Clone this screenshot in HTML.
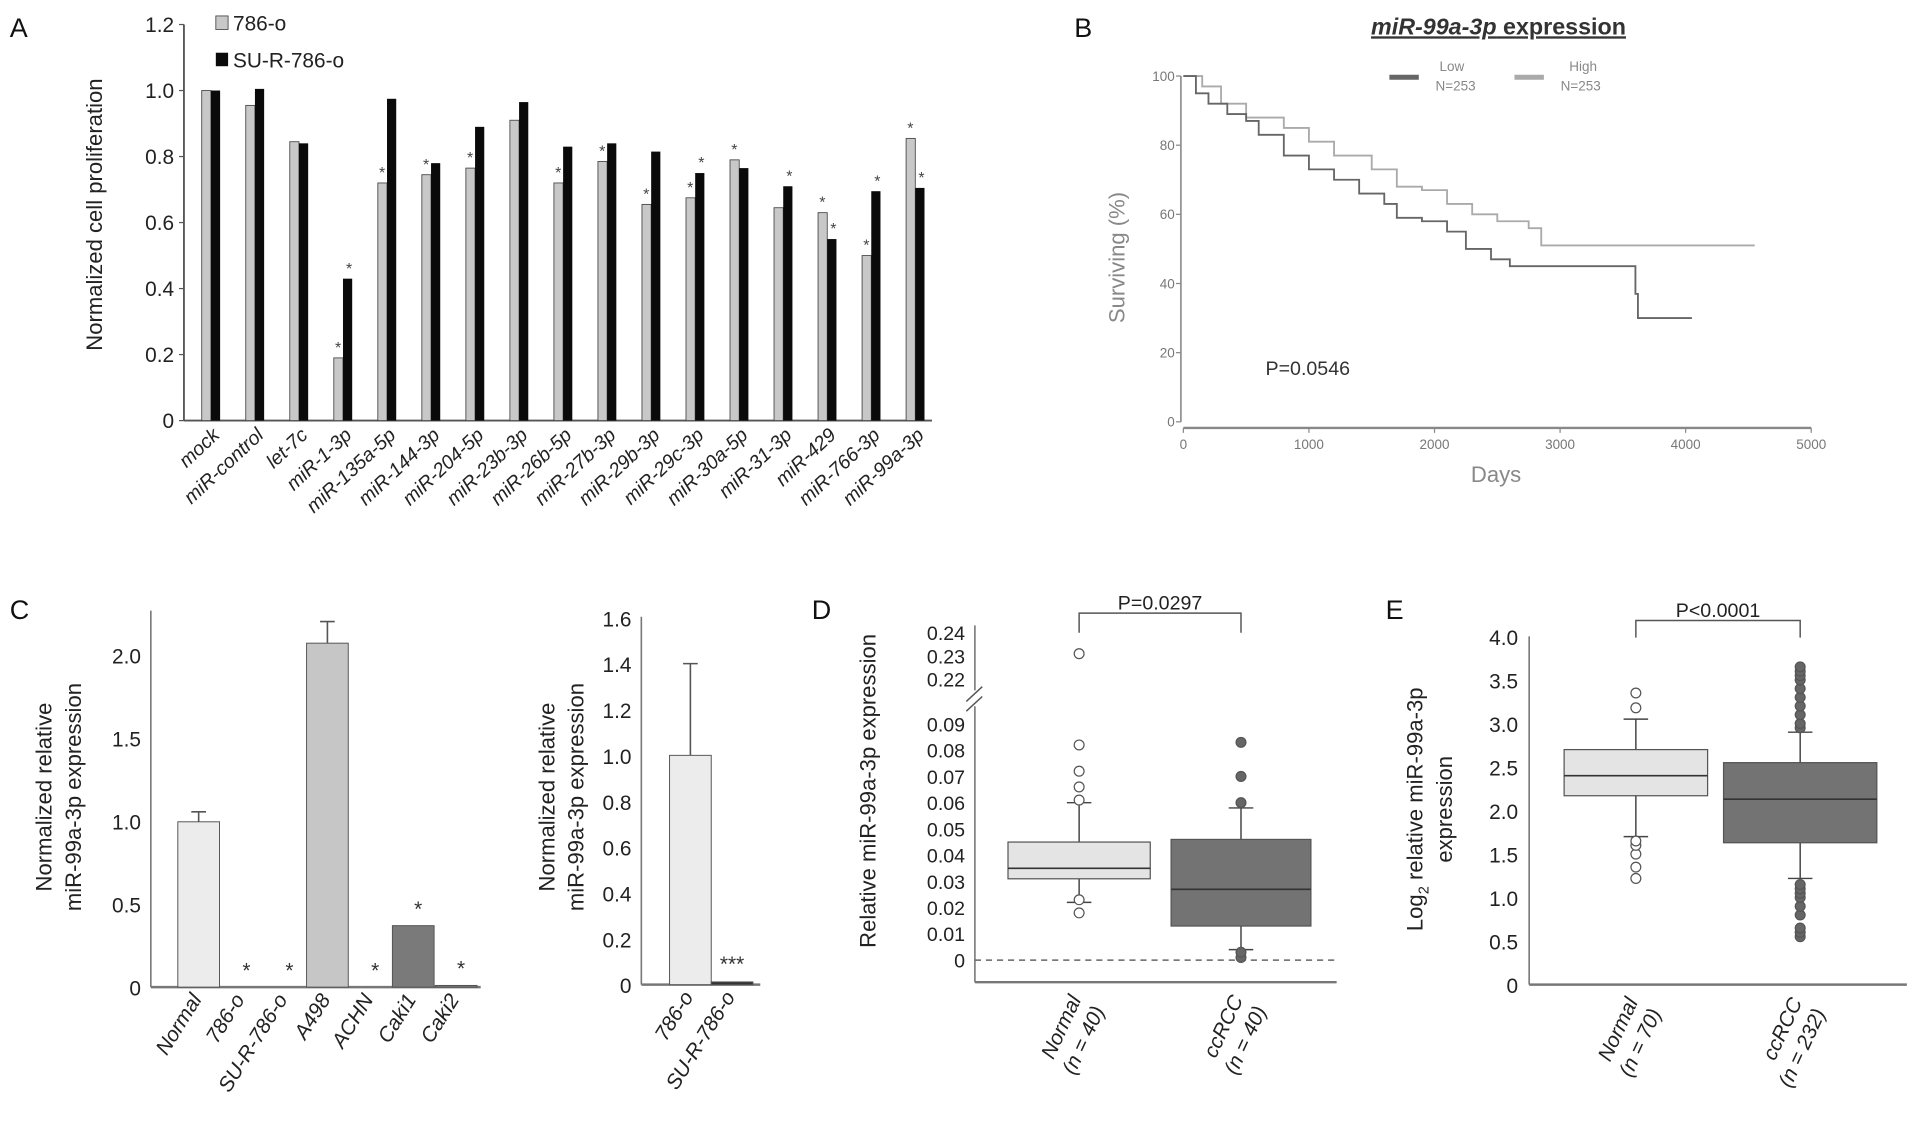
<!DOCTYPE html>
<html><head><meta charset="utf-8"><style>
html,body{margin:0;padding:0;background:#fff;}
svg{display:block;font-family:"Liberation Sans",sans-serif;}
</style></head><body>
<svg id="fig" width="1913" height="1122" viewBox="0 0 1560 915" preserveAspectRatio="none" xmlns="http://www.w3.org/2000/svg"></svg>
<script>
// ---------- Panel A data ----------
const aCategories = ["mock","miR-control","let-7c","miR-1-3p","miR-135a-5p","miR-144-3p","miR-204-5p","miR-23b-3p","miR-26b-5p","miR-27b-3p","miR-29b-3p","miR-29c-3p","miR-30a-5p","miR-31-3p","miR-429","miR-766-3p","miR-99a-3p"];
const aGray = [1.0,0.955,0.845,0.19,0.72,0.745,0.765,0.91,0.72,0.785,0.655,0.675,0.79,0.645,0.63,0.5,0.855];
const aBlack = [1.0,1.005,0.84,0.43,0.975,0.78,0.89,0.965,0.83,0.84,0.815,0.75,0.765,0.71,0.55,0.695,0.705];
const aGrayStar = [0,0,0,1,1,1,1,0,1,1,1,1,1,0,1,1,1];
const aBlackStar = [0,0,0,1,0,0,0,0,0,0,0,1,0,1,1,1,1];
const aTicks = [0,0.2,0.4,0.6,0.8,1.0,1.2];
const aTickLabels = ["0","0.2","0.4","0.6","0.8","1.0","1.2"];
// ---------- Panel B data ----------
const bLowDays = [0,100,200,350,500,600,800,1000,1200,1400,1600,1700,1900,2100,2250,2450,2600,3550,3600,3620,4050];
const bLowSurv = [100,95,92,89,87,83,77,73,70,66,63,59,58,55,50,47,45,45,37,30,30];
const bHighDays = [0,150,300,500,800,1000,1200,1500,1600,1700,1900,2100,2300,2500,2750,2850,4550];
const bHighSurv = [100,97,92,88,85,81,77,73,73,68,67,63,60,58,56,51,51];
const bXTicks = [0,1000,2000,3000,4000,5000];
const bYTicks = [0,20,40,60,80,100];
// ---------- Panel C data ----------
const cCategories = ["Normal","786-o","SU-R-786-o","A498","ACHN","Caki1","Caki2"];
const cValues = [0.995,0.0,0.0,2.07,0.0,0.37,0.01];
const cErrors = [0.06,0,0,0.13,0,0,0];
const cStars = [0,1,1,0,1,1,1];
const cTicks = [0,0.5,1.0,1.5,2.0];
const c2Categories = ["786-o","SU-R-786-o"];
const c2Values = [1.0,0.012];
const c2Errors = [0.4,0];
const c2Ticks = [0,0.2,0.4,0.6,0.8,1.0,1.2,1.4,1.6];
// ---------- Panel D data ----------
const dGroups = ["Normal","ccRCC"];
const dN = ["(n = 40)","(n = 40)"];
const dQ1 = [0.031,0.013];
const dMed = [0.035,0.027];
const dQ3 = [0.045,0.046];
const dLo = [0.022,0.004];
const dHi = [0.060,0.058];
const dOutNormal = [0.018,0.023,0.061,0.066,0.072,0.082,0.231];
const dOutCc = [0.001,0.003,0.060,0.070,0.083];
const dTicksLow = [0,0.01,0.02,0.03,0.04,0.05,0.06,0.07,0.08,0.09];
const dTicksHigh = [0.22,0.23,0.24];
// ---------- Panel E data ----------
const eGroups = ["Normal","ccRCC"];
const eN = ["(n = 70)","(n = 232)"];
const eQ1 = [2.17,1.63];
const eMed = [2.40,2.13];
const eQ3 = [2.70,2.55];
const eLo = [1.70,1.22];
const eHi = [3.05,2.90];
const eOutNormal = [1.22,1.35,1.5,1.6,1.65,3.18,3.35];
const eOutCc = [0.55,0.6,0.65,0.8,0.9,1.0,1.05,1.1,1.15,2.95,3.0,3.1,3.2,3.3,3.4,3.5,3.55,3.6,3.65];
const eTicks = [0,0.5,1.0,1.5,2.0,2.5,3.0,3.5,4.0];

const svg = document.getElementById('fig');
const NS = "http://www.w3.org/2000/svg";
function mk(tag, attrs, parent){
  const e = document.createElementNS(NS, tag);
  for (const k in attrs) e.setAttribute(k, attrs[k]);
  (parent||svg).appendChild(e);
  return e;
}
function txt(x,y,s,size,opts){
  const t = mk('text',Object.assign({x:x,y:y,'font-size':size,fill:'#222'},opts||{}));
  t.textContent = s;
  return t;
}

// ================= Panel A =================
const aX0 = 150, aXEnd = 760, aY0 = 343, aYTop = 20;
function aY(v){ return aY0 - v/1.2*(aY0-aYTop); }
function aX(i){ return 172 + i*35.9; }
let el = txt(8,30,"A",22,{fill:'#111'});


el = mk('line',{x1:aX0,y1:aYTop,x2:aX0,y2:aY0,stroke:'#555','stroke-width':1.5});


el = mk('line',{x1:aX0,y1:aY0,x2:aXEnd,y2:aY0,stroke:'#555','stroke-width':1.5});


aTicks.forEach((v,i)=>{
  const t = mk('line',{x1:aX0-4,y1:aY(v),x2:aX0,y2:aY(v),stroke:'#555'});
  
  
  const l = txt(aX0-8,aY(v)+6,aTickLabels[i],17,{'text-anchor':'end'});
  
  
});
el = txt(0,0,"Normalized cell proliferation",18,{transform:'translate(83,175) rotate(-90)','text-anchor':'middle'});


aCategories.forEach((c,i)=>{
  const cx = aX(i);
  const g = mk('rect',{x:cx-7.5,y:aY(aGray[i]),width:7.5,height:aY0-aY(aGray[i]),fill:'#c8c8c8',stroke:'#444','stroke-width':0.7});
  
  
  const b = mk('rect',{x:cx,y:aY(aBlack[i]),width:7.5,height:aY0-aY(aBlack[i]),fill:'#0a0a0a'});
  
  
  if (aGrayStar[i]){
    const s = txt(cx-4,aY(aGray[i])-4,"*",13,{'text-anchor':'middle',fill:'#444'});
    
    
  }
  if (aBlackStar[i]){
    const s = txt(cx+5,aY(aBlack[i])-4,"*",13,{'text-anchor':'middle',fill:'#444'});
    
    
  }
  const l = txt(0,0,c,16,{transform:'translate('+(cx+8)+',356) rotate(-43)','text-anchor':'end','font-style':'italic'});
  
  
});
el = mk('rect',{x:176,y:13,width:10,height:11,fill:'#c8c8c8',stroke:'#444','stroke-width':0.7});


el = txt(190,25,"786-o",17);


el = mk('rect',{x:176,y:43,width:10,height:11,fill:'#0a0a0a'});


el = txt(190,55,"SU-R-786-o",17);



// ================= Panel B =================
function bX(d){ return 965 + d/5000*(1477-965); }
function bY(s){ return 344 - s/100*(344-62); }
el = txt(876,30,"B",22,{fill:'#111'});


el = txt(1222,28,"",19,{'text-anchor':'middle','text-decoration':'underline',fill:'#333'});
el.innerHTML = '<tspan font-style="italic" font-weight="bold">miR-99a-3p</tspan><tspan font-weight="bold"> expression</tspan>';


el = mk('line',{x1:963,y1:bY(100),x2:963,y2:bY(0),stroke:'#888','stroke-width':1.3});


el = mk('line',{x1:bX(0),y1:349,x2:bX(5000),y2:349,stroke:'#888','stroke-width':2});


bYTicks.forEach(v=>{
  const t = mk('line',{x1:959,y1:bY(v),x2:963,y2:bY(v),stroke:'#888'});
  
  
  const l = txt(958,bY(v)+4,String(v),11,{'text-anchor':'end',fill:'#777'});
  
  
});
bXTicks.forEach(v=>{
  const t = mk('line',{x1:bX(v),y1:349,x2:bX(v),y2:353,stroke:'#888'});
  
  
  const l = txt(bX(v),366,String(v),11,{'text-anchor':'middle',fill:'#777'});
  
  
});
el = txt(0,0,"Surviving (%)",18,{transform:'translate(917,210) rotate(-90)','text-anchor':'middle',fill:'#888'});


el = txt(1220,393,"Days",18,{'text-anchor':'middle',fill:'#888'});


el = txt(1032,306,"P=0.0546",16,{fill:'#333'});


function stepPath(days,surv){
  let d = 'M'+bX(days[0])+','+bY(surv[0]);
  for (let i=1;i<days.length;i++){ d += ' H'+bX(days[i])+' V'+bY(surv[i]); }
  return d;
}
el = mk('path',{d:stepPath(bHighDays,bHighSurv),fill:'none',stroke:'#aaa','stroke-width':1.5});


el = mk('path',{d:stepPath(bLowDays,bLowSurv),fill:'none',stroke:'#666','stroke-width':1.5});


el = mk('line',{x1:1133,y1:63,x2:1157,y2:63,stroke:'#666','stroke-width':4});


el = txt(1184,58,"Low",11,{'text-anchor':'middle',fill:'#888'});


el = txt(1187,74,"N=253",11,{'text-anchor':'middle',fill:'#888'});


el = mk('line',{x1:1235,y1:63,x2:1259,y2:63,stroke:'#aaa','stroke-width':4});


el = txt(1291,58,"High",11,{'text-anchor':'middle',fill:'#888'});


el = txt(1289,74,"N=253",11,{'text-anchor':'middle',fill:'#888'});



// ================= Panel C =================
el = txt(8,505,"C",22,{fill:'#111'});


function cY(v){ return 805 - v*135.5; }
function cX(i){ return 162 + i*35; }
const cFills = ['#ececec','#ececec','#ececec','#c6c6c6','#ececec','#7a7a7a','#7a7a7a'];
el = mk('line',{x1:123,y1:498,x2:123,y2:805,stroke:'#777','stroke-width':1.3});


el = mk('line',{x1:123,y1:805,x2:392,y2:805,stroke:'#777','stroke-width':2});


cTicks.forEach(v=>{
  const l = txt(115,cY(v)+7,v===0?"0":v.toFixed(1),17,{'text-anchor':'end'});
  
  
});
el = txt(0,0,"",18,{transform:'translate(42,650) rotate(-90)','text-anchor':'middle'});
el.innerHTML = '<tspan x="0" dy="0">Normalized relative</tspan><tspan x="0" dy="24">miR-99a-3p expression</tspan>';


cCategories.forEach((c,i)=>{
  const cx = cX(i);
  if (cValues[i]>0){
    const r = mk('rect',{x:cx-17,y:cY(cValues[i]),width:34,height:805-cY(cValues[i]),fill:cFills[i],stroke:'#555','stroke-width':0.8});
    
    
  }
  if (cErrors[i]>0){
    const e = mk('path',{d:'M'+cx+','+cY(cValues[i])+' V'+cY(cValues[i]+cErrors[i])+' M'+(cx-6)+','+cY(cValues[i]+cErrors[i])+' H'+(cx+6),stroke:'#555',fill:'none','stroke-width':1.3});
    
    
  }
  if (cStars[i]){
    const s = txt(cx+4,cY(cValues[i])-8,"*",17,{'text-anchor':'middle',fill:'#333'});
    
    
  }
  const l = txt(0,0,c,17,{transform:'translate('+(cx+3)+',815) rotate(-58)','text-anchor':'end','font-style':'italic'});
  
  
});
// C right
function c2Y(v){ return 803 - v*187; }
function c2X(i){ return 563 + i*34; }
el = mk('line',{x1:523,y1:503,x2:523,y2:803,stroke:'#777','stroke-width':1.3});


el = mk('line',{x1:523,y1:803,x2:620,y2:803,stroke:'#777','stroke-width':2});


c2Ticks.forEach(v=>{
  const l = txt(515,c2Y(v)+7,v===0?"0":v.toFixed(1),17,{'text-anchor':'end'});
  
  
});
el = txt(0,0,"",18,{transform:'translate(452,650) rotate(-90)','text-anchor':'middle'});
el.innerHTML = '<tspan x="0" dy="0">Normalized relative</tspan><tspan x="0" dy="24">miR-99a-3p expression</tspan>';


c2Categories.forEach((c,i)=>{
  const cx = c2X(i);
  const r = mk('rect',{x:cx-17,y:c2Y(c2Values[i]),width:34,height:803-c2Y(c2Values[i]),fill:i===0?'#ececec':'#333',stroke:'#555','stroke-width':0.8});
  
  
  if (c2Errors[i]>0){
    const e = mk('path',{d:'M'+cx+','+c2Y(c2Values[i])+' V'+c2Y(c2Values[i]+c2Errors[i])+' M'+(cx-6)+','+c2Y(c2Values[i]+c2Errors[i])+' H'+(cx+6),stroke:'#555',fill:'none','stroke-width':1.3});
    
    
  }
  const l = txt(0,0,c,17,{transform:'translate('+(cx+3)+',813) rotate(-58)','text-anchor':'end','font-style':'italic'});
  
  
});
el = txt(597,792,"***",17,{'text-anchor':'middle',fill:'#333'});



// ================= Panel D =================
el = txt(662,505,"D",22,{fill:'#111'});


function dY(v){ return v>=0.2 ? 554 - (v-0.22)*1900 : 783 - v*2140; }
function dX(i){ return 880 + i*132; }
el = mk('path',{d:'M795,510 V563 M795,576 V801',stroke:'#777',fill:'none','stroke-width':1.3});


el = mk('path',{d:'M788,572 L801,560 M788,580 L801,568',stroke:'#555',fill:'none','stroke-width':1.2});


el = mk('line',{x1:795,y1:801,x2:1090,y2:801,stroke:'#777','stroke-width':2});


el = mk('line',{x1:795,y1:dY(0),x2:1090,y2:dY(0),stroke:'#666','stroke-width':1.2,'stroke-dasharray':'5,4'});


dTicksLow.concat(dTicksHigh).forEach(v=>{
  const l = txt(787,dY(v)+6,v===0?"0":String(v),16,{'text-anchor':'end'});
  
  
});
el = txt(0,0,"Relative miR-99a-3p expression",18,{transform:'translate(714,645) rotate(-90)','text-anchor':'middle'});


function box(xc,w,q1,med,q3,lo,hi,Y,fill,name){
  const wl = mk('path',{d:'M'+xc+','+Y(q3)+' V'+Y(hi)+' M'+(xc-10)+','+Y(hi)+' H'+(xc+10)+' M'+xc+','+Y(q1)+' V'+Y(lo)+' M'+(xc-10)+','+Y(lo)+' H'+(xc+10),stroke:'#444',fill:'none','stroke-width':1.2});
  
  
  const r = mk('rect',{x:xc-w/2,y:Y(q3),width:w,height:Y(q1)-Y(q3),fill:fill,stroke:'#555','stroke-width':1});
  
  
  const m = mk('line',{x1:xc-w/2,y1:Y(med),x2:xc+w/2,y2:Y(med),stroke:'#333','stroke-width':1.3});
  
  
}
function outliers(xc,arr,Y,filled,name){
  arr.forEach(v=>{
    const c = mk('circle',{cx:xc,cy:Y(v),r:4,fill:filled?'#666':'#fff',stroke:'#555','stroke-width':1});
    
    
  });
}
box(dX(0),116,dQ1[0],dMed[0],dQ3[0],dLo[0],dHi[0],dY,'#e4e4e4','d-normal');
box(dX(1),114,dQ1[1],dMed[1],dQ3[1],dLo[1],dHi[1],dY,'#737373','d-ccrcc');
outliers(dX(0),dOutNormal,dY,false,'d-normal');
outliers(dX(1),dOutCc,dY,true,'d-ccrcc');
el = mk('path',{d:'M'+dX(0)+',516 V500 H'+dX(1)+' V516',stroke:'#555',fill:'none','stroke-width':1.2});


el = txt((dX(0)+dX(1))/2,497,"P=0.0297",16,{'text-anchor':'middle'});


dGroups.forEach((g,i)=>{
  const l = txt(0,0,"",17,{transform:'translate('+(dX(i)+2)+',815) rotate(-65)','text-anchor':'end','font-style':'italic'});
  l.innerHTML = '<tspan x="0" dy="0">'+g+'</tspan><tspan x="0" dy="21">'+dN[i]+'</tspan>';
  
  
});

// ================= Panel E =================
el = txt(1130,505,"E",22,{fill:'#111'});


function eY(v){ return 803 - v*71; }
function eX(i){ return 1334 + i*134; }
el = mk('line',{x1:1247,y1:eY(4),x2:1247,y2:803,stroke:'#777','stroke-width':1.3});


el = mk('line',{x1:1247,y1:803,x2:1555,y2:803,stroke:'#777','stroke-width':2});


eTicks.forEach(v=>{
  const l = txt(1238,eY(v)+7,v===0?"0":v.toFixed(1),17,{'text-anchor':'end'});
  
  
});
el = txt(0,0,"",18,{transform:'translate(1160,660) rotate(-90)','text-anchor':'middle'});
el.innerHTML = '<tspan x="0" dy="0">Log<tspan font-size="12" dy="5">2</tspan><tspan dy="-5"> relative miR-99a-3p</tspan></tspan><tspan x="0" dy="24">expression</tspan>';


box(eX(0),117,eQ1[0],eMed[0],eQ3[0],eLo[0],eHi[0],eY,'#e4e4e4','e-normal');
box(eX(1),125,eQ1[1],eMed[1],eQ3[1],eLo[1],eHi[1],eY,'#737373','e-ccrcc');
outliers(eX(0),eOutNormal,eY,false,'e-normal');
outliers(eX(1),eOutCc,eY,true,'e-ccrcc');
el = mk('path',{d:'M'+eX(0)+',520 V506 H'+eX(1)+' V520',stroke:'#555',fill:'none','stroke-width':1.2});


el = txt((eX(0)+eX(1))/2,503,"P<0.0001",16,{'text-anchor':'middle'});


eGroups.forEach((g,i)=>{
  const l = txt(0,0,"",17,{transform:'translate('+(eX(i)+2)+',817) rotate(-65)','text-anchor':'end','font-style':'italic'});
  l.innerHTML = '<tspan x="0" dy="0">'+g+'</tspan><tspan x="0" dy="21">'+eN[i]+'</tspan>';
  
  
});
</script>
</body></html>
